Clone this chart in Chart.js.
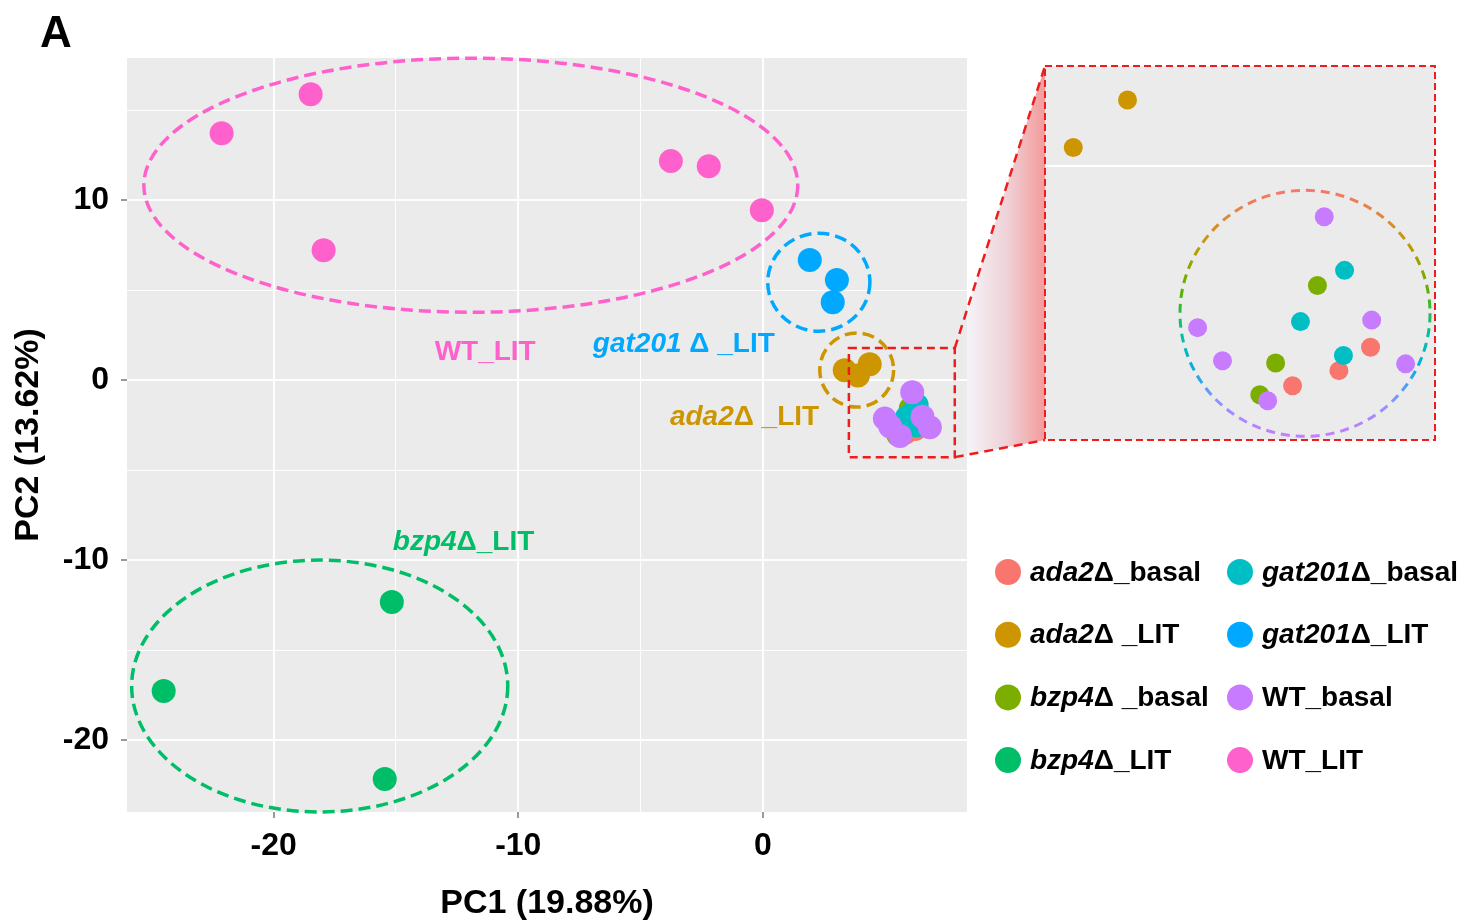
<!DOCTYPE html>
<html>
<head>
<meta charset="utf-8">
<title>PCA of RNA-seq samples</title>
<script src="https://cdn.jsdelivr.net/npm/chart.js@4.4.0/dist/chart.umd.min.js"></script>
<style>
  body { margin: 0; background: #fff; }
  #wrap { position: relative; width: 1482px; height: 924px; }
  #main { position: absolute; left: 0; top: 0; }
  #inset { position: absolute; left: 1043px; top: 64px; }
</style>
</head>
<body>
<div id="wrap">
  <canvas id="main" width="1482" height="924"></canvas>
  <canvas id="inset" width="394" height="378"></canvas>
</div>
<script>
const FONT = "'Liberation Sans', Arial, sans-serif";

// sample groups, in legend order
const groups = ['ada2Δ_basal', 'ada2Δ _LIT', 'bzp4Δ _basal', 'bzp4Δ_LIT',
                'gat201Δ_basal', 'gat201Δ_LIT', 'WT_basal', 'WT_LIT'];
const palette = ['#F8766D', '#CD9600', '#7CAE00', '#00BE67',
                 '#00BFC4', '#00A9FF', '#C77CFF', '#FF61CC'];

// PC1 / PC2 scores for each sample
const ada2Basal   = [{ x: 6.52, y: -2.40 }, { x: 6.24, y: -2.71 }, { x: 5.83, y: -2.91 }];
const ada2Lit     = [{ x: 4.37, y: 0.88 }, { x: 3.89, y: 0.25 }, { x: 3.35, y: 0.55 }];
const bzp4Basal   = [{ x: 6.05, y: -1.58 }, { x: 5.68, y: -2.61 }, { x: 5.54, y: -3.03 }];
const bzp4Lit     = [{ x: -15.17, y: -12.33 }, { x: -24.50, y: -17.28 }, { x: -15.46, y: -22.17 }];
const gat201Basal = [{ x: 6.29, y: -1.38 }, { x: 5.90, y: -2.06 }, { x: 6.28, y: -2.51 }];
const gat201Lit   = [{ x: 1.92, y: 6.67 }, { x: 3.03, y: 5.56 }, { x: 2.86, y: 4.33 }];
const wtBasal     = [{ x: 6.11, y: -0.67 }, { x: 4.99, y: -2.14 }, { x: 5.21, y: -2.58 },
                     { x: 6.53, y: -2.04 }, { x: 6.83, y: -2.62 }, { x: 5.61, y: -3.11 }];
const wtLit       = [{ x: -22.13, y: 13.72 }, { x: -18.49, y: 15.89 }, { x: -17.96, y: 7.22 },
                     { x: -3.76, y: 12.17 }, { x: -2.21, y: 11.89 }, { x: -0.04, y: 9.44 }];
const scores = [ada2Basal, ada2Lit, bzp4Basal, bzp4Lit, gat201Basal, gat201Lit, wtBasal, wtLit];

const xTicks = [-20, -10, 0];
const yTicks = [-20, -10, 0, 10];

// cluster outlines (group index, centre and radii in PC units)
const ellipses = [
  { group: 7, cx: -11.94, cy: 10.83, rx: 13.37, ry: 7.06 },
  { group: 5, cx: 2.29, cy: 5.44, rx: 2.09, ry: 2.72 },
  { group: 1, cx: 3.84, cy: 0.56, rx: 1.51, ry: 2.06 },
  { group: 3, cx: -18.12, cy: -17.0, rx: 7.69, ry: 7.0 }
];
// cluster names written inside the plot
const clusterLabels = [
  { group: 7, text: 'WT_LIT', x: -13.42, y: 1.11 },
  { group: 5, text: 'gat201 Δ _LIT', x: -6.95, y: 1.56 },
  { group: 1, text: 'ada2Δ _LIT', x: -3.80, y: -2.50 },
  { group: 3, text: 'bzp4Δ_LIT', x: -15.13, y: -9.44 }
];
// region of the main plot that is blown up in the inset
const zoomBox = { x: [3.52, 7.85], y: [-4.28, 1.78] };
// basal cluster outline in the inset
const basalRing = { cx: 5.94, cy: -1.95, rx: 1.106, ry: 1.631 };

const INSET = { left: 1043, top: 64, width: 394, height: 378, pad: 2 };

// italic gene name, upright suffix
function splitLabel(label) {
  const i = label.indexOf('Δ');
  return i > 0 ? [{ text: label.slice(0, i), italic: true }, { text: label.slice(i) }] : [{ text: label }];
}

function drawRich(ctx, parts, x, y, size, color) {
  let cx = x;
  ctx.fillStyle = color;
  parts.forEach(p => {
    ctx.font = (p.italic ? 'italic ' : '') + 'bold ' + size + 'px ' + FONT;
    ctx.fillText(p.text, cx, y);
    cx += ctx.measureText(p.text).width;
  });
}

const panel = {
  id: 'panel',
  beforeDraw(chart) {
    const { ctx, chartArea: a } = chart;
    ctx.save();
    ctx.fillStyle = '#EBEBEB';
    ctx.fillRect(a.left, a.top, a.right - a.left, a.bottom - a.top);
    ctx.restore();
  }
};

const mainDecor = {
  id: 'mainDecor',
  afterDatasetsDraw(chart) {
    const { ctx, scales: { x, y } } = chart;
    ctx.save();
    ellipses.forEach(e => {
      const cx = x.getPixelForValue(e.cx), cy = y.getPixelForValue(e.cy);
      const rx = x.getPixelForValue(e.cx + e.rx) - cx;
      const ry = cy - y.getPixelForValue(e.cy + e.ry);
      ctx.beginPath();
      ctx.ellipse(cx, cy, rx, ry, 0, 0, Math.PI * 2);
      ctx.setLineDash([12, 6]);
      ctx.lineWidth = 3.5;
      ctx.strokeStyle = palette[e.group];
      ctx.stroke();
    });
    ctx.setLineDash([]);
    ctx.textBaseline = 'alphabetic';
    ctx.textAlign = 'left';
    clusterLabels.forEach(l => {
      drawRich(ctx, splitLabel(l.text), x.getPixelForValue(l.x), y.getPixelForValue(l.y), 28, palette[l.group]);
    });
    // zoomed region
    const x0 = x.getPixelForValue(zoomBox.x[0]), x1 = x.getPixelForValue(zoomBox.x[1]);
    const y0 = y.getPixelForValue(zoomBox.y[1]), y1 = y.getPixelForValue(zoomBox.y[0]);
    ctx.setLineDash([8, 5]);
    ctx.lineWidth = 2.5;
    ctx.strokeStyle = '#EE1C1C';
    ctx.strokeRect(x0, y0, x1 - x0, y1 - y0);
    ctx.restore();
  },
  afterDraw(chart) {
    const { ctx, chartArea: a, scales: { x, y } } = chart;
    ctx.save();
    // panel tag
    ctx.fillStyle = '#000';
    ctx.font = 'bold 44px ' + FONT;
    ctx.textBaseline = 'alphabetic';
    ctx.fillText('A', 40, 47);

    // funnel from the zoom box to the inset
    const bx = x.getPixelForValue(zoomBox.x[1]);
    const bTop = y.getPixelForValue(zoomBox.y[1]), bBot = y.getPixelForValue(zoomBox.y[0]);
    const ix = INSET.left + INSET.pad;
    const iTop = INSET.top + INSET.pad, iBot = INSET.top + INSET.height - INSET.pad;
    ctx.save();
    ctx.beginPath();
    ctx.rect(a.right, 0, ix - a.right, chart.height);
    ctx.clip();
    const g = ctx.createLinearGradient(a.right, 0, ix, 0);
    g.addColorStop(0, '#F4F4F8');
    g.addColorStop(0.5, '#EED3D8');
    g.addColorStop(1, '#F49A9A');
    ctx.beginPath();
    ctx.moveTo(bx, bTop);
    ctx.lineTo(ix, iTop);
    ctx.lineTo(ix, iBot);
    ctx.lineTo(bx, bBot);
    ctx.closePath();
    ctx.fillStyle = g;
    ctx.fill();
    ctx.restore();
    ctx.setLineDash([9, 6]);
    ctx.lineWidth = 2.5;
    ctx.strokeStyle = '#EE1C1C';
    ctx.beginPath();
    ctx.moveTo(bx, bTop); ctx.lineTo(ix, iTop);
    ctx.moveTo(bx, bBot); ctx.lineTo(ix, iBot);
    ctx.stroke();
    ctx.setLineDash([]);

    // legend, two columns of four
    ctx.textBaseline = 'middle';
    groups.forEach((gname, i) => {
      const col = Math.floor(i / 4), row = i % 4;
      const cx = [1008, 1240][col], cy = 572 + row * 62.7;
      ctx.beginPath();
      ctx.arc(cx, cy, 13, 0, Math.PI * 2);
      ctx.fillStyle = palette[i];
      ctx.fill();
      drawRich(ctx, splitLabel(gname), cx + 22, cy + 1, 28, '#000');
    });
    ctx.restore();
  }
};

const isMinor = v => v % 5 === 0;
function gridStyle(ticks) {
  return {
    color: c => (c.tick && isMinor(c.tick.value) ? 'rgba(255,255,255,0.95)' : 'transparent'),
    lineWidth: c => (c.tick && ticks.includes(c.tick.value) ? 2 : 1),
    tickColor: c => (c.tick && ticks.includes(c.tick.value) ? '#999' : 'transparent'),
    tickLength: 6
  };
}
const tickFont = { family: FONT, size: 32, weight: 'bold' };
const titleFont = { family: FONT, size: 34, weight: 'bold' };

new Chart(document.getElementById('main'), {
  type: 'scatter',
  data: {
    datasets: groups.map((g, i) => ({
      label: g,
      data: scores[i],
      backgroundColor: palette[i],
      borderWidth: 0,
      pointRadius: 12,
      order: groups.length - i
    }))
  },
  options: {
    responsive: false,
    animation: false,
    devicePixelRatio: 1,
    layout: { autoPadding: false, padding: { left: 0, top: 58, right: 515, bottom: 0 } },
    plugins: { legend: { display: false }, tooltip: { enabled: false } },
    scales: {
      x: {
        type: 'linear', min: -26, max: 8.35,
        border: { display: false },
        grid: gridStyle(xTicks),
        ticks: { stepSize: 5, padding: 9, color: '#000', font: tickFont, maxRotation: 0, autoSkip: false,
                 callback: v => (xTicks.includes(v) ? String(v) : '') },
        title: { display: true, text: 'PC1 (19.88%)', color: '#000', font: titleFont, padding: { top: 0, bottom: 0 } },
        afterFit: s => { s.height = 112; }
      },
      y: {
        type: 'linear', min: -24, max: 17.9,
        border: { display: false },
        grid: gridStyle(yTicks),
        ticks: { stepSize: 5, padding: 12, color: '#000', font: tickFont, autoSkip: false,
                 callback: v => (yTicks.includes(v) ? String(v) : '') },
        title: { display: true, text: 'PC2 (13.62%)', color: '#000', font: titleFont, padding: { top: 8, bottom: 0 } },
        afterFit: s => { s.width = 127; }
      }
    }
  },
  plugins: [panel, mainDecor]
});

const insetDecor = {
  id: 'insetDecor',
  afterDatasetsDraw(chart) {
    const { ctx, scales: { x, y } } = chart;
    const cx = x.getPixelForValue(basalRing.cx), cy = y.getPixelForValue(basalRing.cy);
    const rx = x.getPixelForValue(basalRing.cx + basalRing.rx) - cx;
    const ry = cy - y.getPixelForValue(basalRing.cy + basalRing.ry);
    const g = ctx.createLinearGradient(0, cy - ry, 0, cy + ry);
    g.addColorStop(0, '#F8766D');
    g.addColorStop(0.22, '#C49A00');
    g.addColorStop(0.42, '#53B400');
    g.addColorStop(0.58, '#00C0A0');
    g.addColorStop(0.72, '#00B0E0');
    g.addColorStop(0.86, '#8C94FF');
    g.addColorStop(1, '#C77CFF');
    ctx.save();
    ctx.beginPath();
    ctx.ellipse(cx, cy, rx, ry, 0, 0, Math.PI * 2);
    ctx.setLineDash([9, 6]);
    ctx.lineWidth = 3;
    ctx.strokeStyle = g;
    ctx.stroke();
    ctx.restore();
  },
  afterDraw(chart) {
    const { ctx, chartArea: a } = chart;
    ctx.save();
    ctx.setLineDash([7, 4]);
    ctx.lineWidth = 2;
    ctx.strokeStyle = '#EE1C1C';
    ctx.strokeRect(a.left, a.top, a.right - a.left, a.bottom - a.top);
    ctx.restore();
  }
};

new Chart(document.getElementById('inset'), {
  type: 'scatter',
  data: {
    datasets: groups.map((g, i) => ({
      label: g,
      data: scores[i],
      backgroundColor: palette[i],
      borderWidth: 0,
      pointRadius: 9.5,
      order: groups.length - i,
      clip: 0
    }))
  },
  options: {
    responsive: false,
    animation: false,
    devicePixelRatio: 1,
    layout: { autoPadding: false, padding: INSET.pad },
    plugins: { legend: { display: false }, tooltip: { enabled: false } },
    scales: {
      x: { type: 'linear', min: 3.64, max: 7.09, display: false },
      y: {
        type: 'linear', min: -3.63, max: 1.33,
        border: { display: false },
        grid: { color: c => (c.tick && c.tick.value === 0 ? '#FFFFFF' : 'transparent'), lineWidth: 2, drawTicks: false },
        ticks: { display: false, stepSize: 5 },
        afterFit: s => { s.width = 0; }
      }
    }
  },
  plugins: [panel, insetDecor]
});
</script>
</body>
</html>
